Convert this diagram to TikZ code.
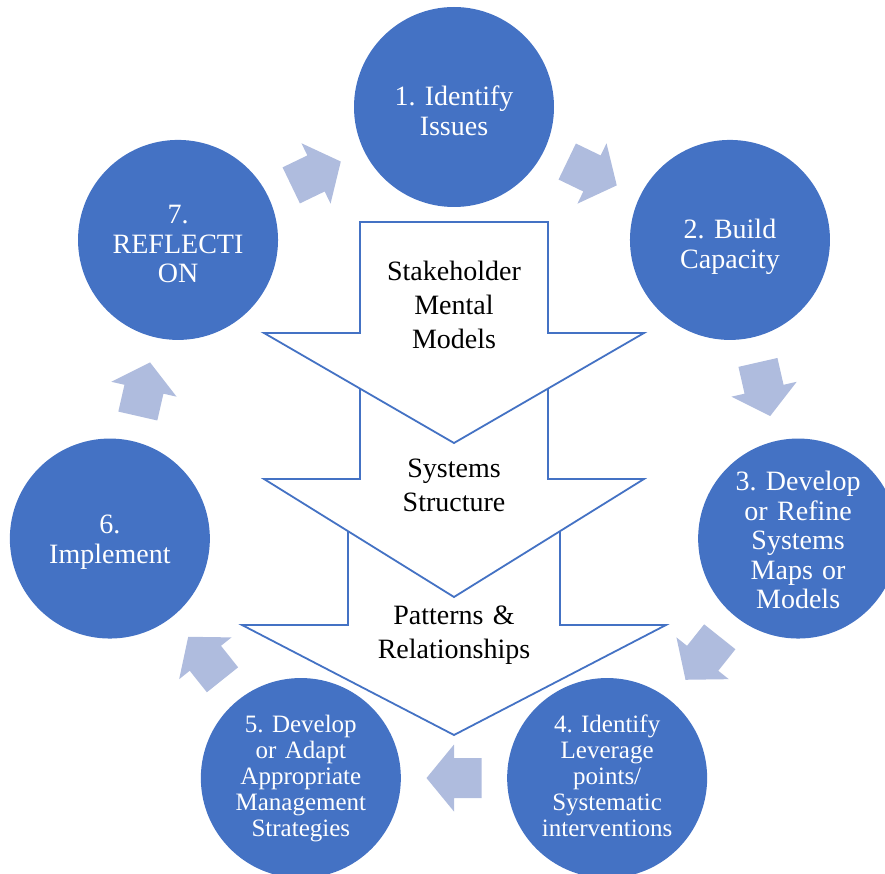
\documentclass[tikz,border=0pt]{standalone}
\usepackage{fontspec}
\setmainfont{Liberation Serif}
\usetikzlibrary{calc}
\definecolor{cycleblue}{RGB}{68,114,196}
\definecolor{steparrow}{RGB}{175,188,222}
\frenchspacing
\begin{document}
\begin{tikzpicture}[x=1pt,y=1pt,
  stage/.style={circle, fill=cycleblue, minimum size=200pt, inner sep=0pt},
  stagetext/.style={text=white, font=\fontsize{28}{29.5}\selectfont, align=center,
    text width=200pt, anchor=base, inner sep=0pt},
  smallstagetext/.style={stagetext, font=\fontsize{25}{26}\selectfont},
  layertext/.style={text=black, font=\fontsize{28}{34}\selectfont, align=center,
    text width=220pt, anchor=base, inner sep=0pt},
  layer/.style={draw=cycleblue, fill=white, line width=1.8pt, line join=miter},
  flow/.style={fill=steparrow}]
\useasboundingbox (-454,-413) rectangle (431,460);
\clip (-454,-413) rectangle (431,460);

% stacked down arrows in the middle, lowest first
\draw[layer] (-106,-40) -- (106,-40) -- (106,-165) -- (212,-165) -- (0,-275)
  -- (-212,-165) -- (-106,-165) -- cycle;
\draw[layer] (-94,92) -- (94,92) -- (94,-19) -- (190,-19) -- (0,-137)
  -- (-190,-19) -- (-94,-19) -- cycle;
\draw[layer] (-94,238) -- (94,238) -- (94,127) -- (190,127) -- (0,17)
  -- (-190,127) -- (-94,127) -- cycle;

\node[layertext] (m1) at (0,180) {Stakeholder\\Mental\\Models};
\node[layertext] (m2) at (0,-17) {Systems\\Structure};
\node[layertext] (m3) at (0,-164) {Patterns \&\\Relationships};

% the seven stages around the ring
\foreach \i in {1,...,7}
  \node[stage] (c\i) at ({90-(\i-1)*360/7}:353) {};

\node[stagetext] (t1) at ([yshift=1pt]c1.center) {1. Identify\\Issues};
\node[stagetext] (t2) at ([yshift=1pt]c2.center) {2. Build\\Capacity};
\node[stagetext] (t3) at ([yshift=48pt]c3.center) {3. Develop\\or Refine\\Systems\\Maps or\\Models};
\node[smallstagetext] (t4) at ([yshift=46pt]c4.center) {4. Identify\\Leverage\\points/\\Systematic\\interventions};
\node[smallstagetext] (t5) at ([yshift=46pt]c5.center) {5. Develop\\or Adapt\\Appropriate\\Management\\Strategies};
\node[stagetext] (t6) at ([yshift=5pt]c6.center) {6.\\Implement};
\node[stagetext] (t7) at ([yshift=16pt]c7.center) {7.\\REFLECTI\\ON};

% block arrows between neighbouring stages
\foreach \i/\j in {1/2,2/3,3/4,4/5,5/6,6/7,7/1}
  \fill[flow, shift={($(c\i)!0.5!(c\j)$)}, rotate={-(\i-0.5)*360/7}]
    (-27.5,-20) -- (0,-20) -- (0,-33.5) -- (27.5,0) -- (0,33.5) -- (0,20)
    -- (-27.5,20) -- cycle;
\end{tikzpicture}
\end{document}
